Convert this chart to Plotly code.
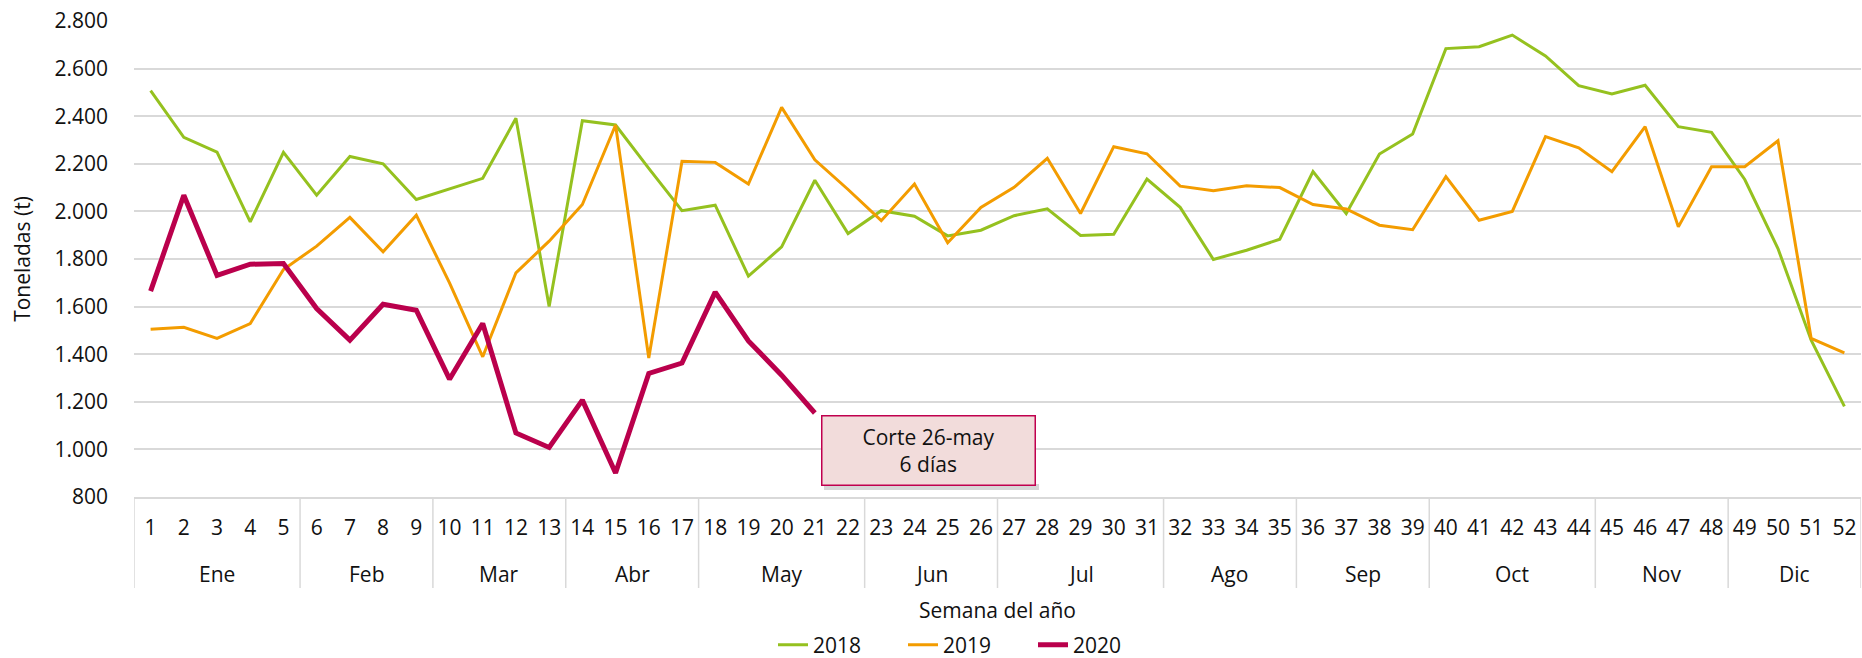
import plotly.graph_objects as go

# ---------------- data ----------------
month_names = ["Ene", "Feb", "Mar", "Abr", "May", "Jun", "Jul", "Ago", "Sep", "Oct", "Nov", "Dic"]
weeks_per_month = [5, 4, 4, 4, 5, 4, 5, 4, 4, 5, 4, 4]
weeks = [str(w) for w in range(1, 53)]

y2018 = [2507, 2311, 2249, 1956, 2248, 2068, 2231, 2200, 2050, 2096,
         2139, 2391, 1600, 2381, 2363, 2181, 2003, 2026, 1728, 1851,
         2131, 1907, 2003, 1980, 1897, 1921, 1982, 2011, 1899, 1904,
         2136, 2017, 1798, 1837, 1883, 2167, 1991, 2241, 2325, 2684,
         2692, 2741, 2653, 2528, 2493, 2530, 2356, 2332, 2134, 1844,
         1459, 1181]
y2019 = [1505, 1513, 1466, 1529, 1756, 1854, 1975, 1830, 1984, 1700,
         1389, 1742, 1875, 2029, 2363, 1384, 2211, 2206, 2115, 2437,
         2217, 2092, 1961, 2115, 1868, 2017, 2101, 2223, 1991, 2272,
         2242, 2106, 2087, 2108, 2100, 2029, 2010, 1942, 1923, 2146,
         1963, 2000, 2314, 2267, 2167, 2356, 1935, 2188, 2188, 2297,
         1466, 1406]
y2020 = [1665, 2068, 1731, 1778, 1781, 1592, 1459, 1610, 1585, 1295,
         1529, 1069, 1008, 1207, 901, 1319, 1363, 1661, 1456, 1312,
         1153]

series_names = ["2018", "2019", "2020"]
colors = ["#95C11F", "#F39C00", "#BA004C"]
widths = [3, 3, 5]

FONT = "Open Sans, Noto Sans, Segoe UI, sans-serif"
TXT = "#111111"
GRID = "#D9D9D9"

# plot-area geometry (px) used to place the non-data furniture
ML, MR, MT, MB = 134, 1, 21, 161
W, H = 1862, 658
PW, PH = W - ML - MR, H - MT - MB

def py(px_below_axis):
    """paper y for a pixel offset below the x axis line"""
    return -px_below_axis / PH

fig = go.Figure()
for name, ys, col, w in zip(series_names, [y2018, y2019, y2020], colors, widths):
    fig.add_trace(go.Scatter(
        x=weeks[:len(ys)], y=ys, mode="lines", name=name,
        line=dict(color=col, width=w),
    ))

# month group labels and dividers of the two-level category axis
start = 0
for m, n in zip(month_names, weeks_per_month):
    fig.add_annotation(xref="x", yref="paper", x=start + (n - 1) / 2, y=py(77),
                       text=m, showarrow=False, xanchor="center", yanchor="middle",
                       font=dict(family=FONT, size=21, color=TXT))
    fig.add_shape(type="line", xref="x", yref="paper", x0=start - 0.5, x1=start - 0.5,
                  y0=0, y1=py(91), line=dict(color=GRID, width=1.5))
    start += n
fig.add_shape(type="line", xref="x", yref="paper", x0=start - 0.5, x1=start - 0.5,
              y0=0, y1=py(91), line=dict(color=GRID, width=1.5))

# note box
BX, BY = (928 - ML) / PW, (MT + PH - 450) / PH
fig.add_shape(type="rect", xref="paper", yref="paper", layer="above",
              x0=BX - 104 / PW, x1=BX + 111 / PW,
              y0=BY - 40 / PH, y1=BY - 34 / PH,
              line=dict(width=0), fillcolor="rgba(0,0,0,0.16)")
fig.add_annotation(
    xref="paper", yref="paper", x=BX, y=BY,
    xanchor="center", yanchor="middle",
    text="Corte 26-may<br>6 días", showarrow=False,
    font=dict(family=FONT, size=21, color=TXT),
    bgcolor="#F2DCDB", bordercolor="#C0004E", borderwidth=1.5,
    width=212, height=68, borderpad=0, align="center",
)

fig.update_layout(
    width=W, height=H,
    margin=dict(l=ML, r=MR, t=MT, b=MB, autoexpand=False),
    paper_bgcolor="white", plot_bgcolor="white",
    separators=",.",
    font=dict(family=FONT, size=21, color=TXT),
    showlegend=True,
    legend=dict(orientation="h", xref="paper", yref="container",
                x=(968 - ML) / PW, y=1 - 645 / H, xanchor="center", yanchor="middle",
                font=dict(size=21, color=TXT), bgcolor="rgba(0,0,0,0)",
                entrywidth=85),
    xaxis=dict(
        type="category", categoryorder="array", categoryarray=weeks,
        range=[-0.5, len(weeks) - 0.5], automargin=False,
        showgrid=False, zeroline=False,
        showline=True, linecolor=GRID, linewidth=1.5,
        ticks="", ticklabelstandoff=11,
        tickfont=dict(size=21, color=TXT),
        title=dict(text="Semana del año", font=dict(size=21, color=TXT), standoff=65),
    ),
    yaxis=dict(
        range=[800, 2800], dtick=200, tickformat=",d", automargin=False,
        showgrid=True, gridcolor=GRID, gridwidth=1.5,
        zeroline=False, showline=False, ticks="",
        ticklabelstandoff=25,
        tickfont=dict(size=21, color=TXT),
        title=dict(text="Toneladas (t)", font=dict(size=21, color=TXT), standoff=18),
    ),
)

fig.write_html("out.html", config={"displayModeBar": False},
               post_script="document.body.style.margin='0';document.body.style.overflow='hidden';")
